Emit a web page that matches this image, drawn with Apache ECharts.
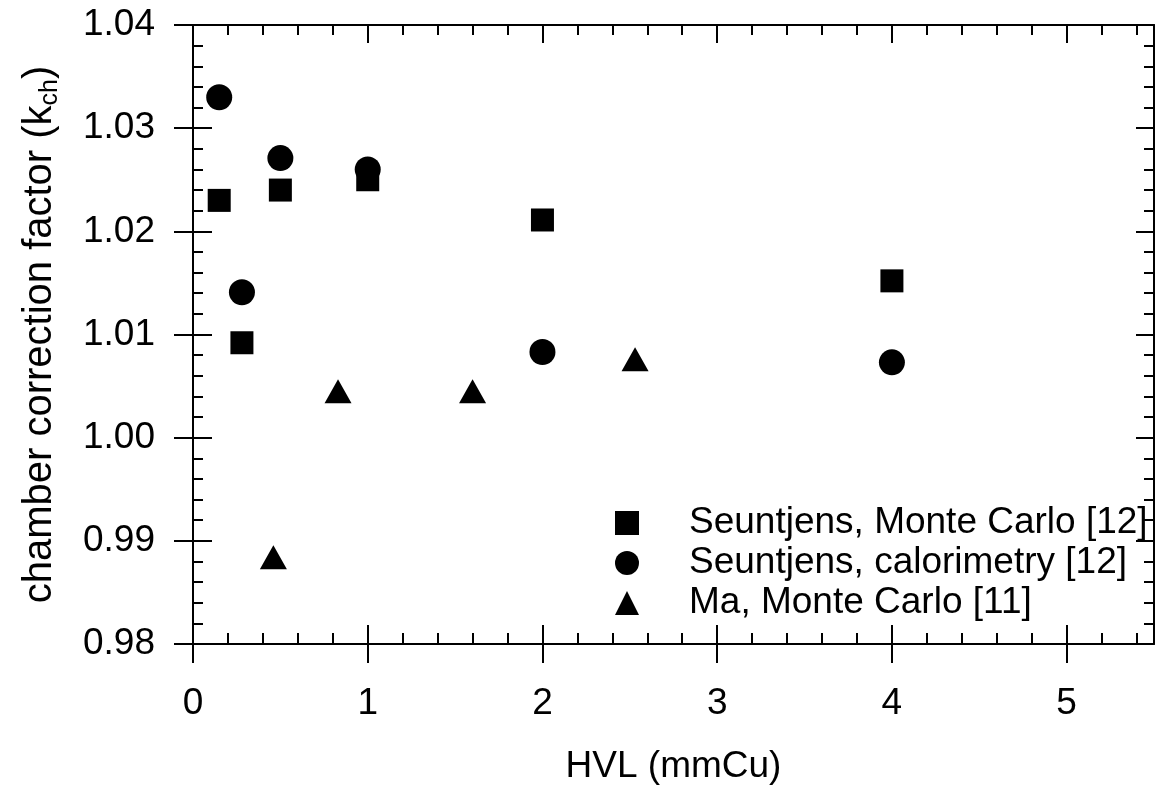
<!DOCTYPE html>
<html>
<head>
<meta charset="utf-8">
<script src="https://cdn.jsdelivr.net/npm/echarts@6/dist/echarts.min.js"></script>
<style>
html, body { margin: 0; padding: 0; background: #fff; }
#chart { width: 1161px; height: 791px; }
</style>
</head>
<body>
<div id="chart"></div>
<script>
// Seuntjens, Monte Carlo [12]
var hvlMC12 = [0.15, 0.28, 0.5, 1.0, 2.0, 4.0]
var kMC12 = [1.023, 1.0092, 1.024, 1.025, 1.0211, 1.0152]
// Seuntjens, calorimetry [12]
var hvlCal12 = [0.15, 0.28, 0.5, 1.0, 2.0, 4.0]
var kCal12 = [1.033, 1.0141, 1.0271, 1.026, 1.0083, 1.0073]
// Ma, Monte Carlo [11]
var hvlMa11 = [0.46, 0.83, 1.6, 2.53]
var kMa11 = [0.9884, 1.0045, 1.0045, 1.0076]

var seriesNames = ['Seuntjens, Monte Carlo [12]', 'Seuntjens, calorimetry [12]', 'Ma, Monte Carlo [11]']
var xTicks = [0, 1, 2, 3, 4, 5]
var yTicks = [0.98, 0.99, 1.00, 1.01, 1.02, 1.03, 1.04]

var X_MIN = 0, X_MAX = 5.5
var Y_MIN = 0.98, Y_MAX = 1.04

// minor tick positions (0.2 on x, 0.002 on y)
var xMinor = []
for (var i = 0; i <= 27; i++) xMinor.push(Math.round(i * 0.2 * 1000) / 1000)
var yMinor = []
for (var j = 0; j <= 30; j++) yMinor.push(Math.round((Y_MIN + j * 0.002) * 10000) / 10000)

var FONT = 'Liberation Sans, Arial, Helvetica, sans-serif'
var BLACK = '#000'

function zip (xs, ys) {
  return xs.map(function (x, k) { return [x, ys[k]] })
}

// axis that only draws ticks (no line, no labels)
function tickAxis (dim, position, values, len, inside) {
  return {
    type: 'value',
    position: position,
    min: dim === 'x' ? X_MIN : Y_MIN,
    max: dim === 'x' ? X_MAX : Y_MAX,
    axisLine: { show: false, onZero: false },
    axisLabel: { show: false },
    splitLine: { show: false },
    axisTick: {
      show: true,
      inside: inside,
      length: len,
      customValues: values,
      lineStyle: { color: BLACK, width: 2 }
    }
  }
}

var chart = echarts.init(document.getElementById('chart'))

var option = {
  backgroundColor: '#fff',
  animation: false,
  textStyle: { fontFamily: FONT },
  grid: {
    left: 193,
    top: 25,
    right: 7,
    bottom: 147,
    containLabel: false,
    outerBoundsMode: 'none'
  },
  legend: {
    orient: 'vertical',
    left: 610,
    top: 498,
    itemWidth: 24,
    itemHeight: 24,
    itemGap: 0,
    data: seriesNames,
    formatter: '{t|{name}}',
    textStyle: {
      fontFamily: FONT,
      fontSize: 37,
      color: BLACK,
      lineHeight: 40,
      rich: {
        t: { fontFamily: FONT, fontSize: 37, color: BLACK, lineHeight: 40, padding: [0, 0, 0, 45] }
      }
    }
  },
  xAxis: [
    {
      type: 'value',
      position: 'bottom',
      min: X_MIN,
      max: X_MAX,
      name: 'HVL (mmCu)',
      nameLocation: 'middle',
      nameGap: 104,
      nameTextStyle: { fontFamily: FONT, fontSize: 37, color: BLACK },
      axisLine: { show: true, onZero: false, lineStyle: { color: BLACK, width: 2 } },
      axisTick: { show: true, inside: true, length: 19, customValues: xTicks, lineStyle: { color: BLACK, width: 2 } },
      axisLabel: {
        customValues: xTicks,
        margin: 41,
        fontFamily: FONT,
        fontSize: 37,
        color: BLACK
      },
      splitLine: { show: false }
    },
    tickAxis('x', 'bottom', xTicks, 19, false),
    tickAxis('x', 'bottom', xMinor, 11, true),
    Object.assign(tickAxis('x', 'top', xTicks, 18, true), {
      axisLine: { show: true, onZero: false, lineStyle: { color: BLACK, width: 2 } }
    }),
    tickAxis('x', 'top', xMinor, 10, true)
  ],
  yAxis: [
    {
      type: 'value',
      position: 'left',
      min: Y_MIN,
      max: Y_MAX,
      name: '{m|chamber correction factor (k}{s|ch}{m|)}',
      nameLocation: 'middle',
      nameGap: 130,
      nameTextStyle: {
        rich: {
          m: { fontFamily: FONT, fontSize: 40, color: BLACK, lineHeight: 46 },
          s: { fontFamily: FONT, fontSize: 25, color: BLACK, lineHeight: 46, verticalAlign: 'bottom', padding: [16, 0, 0, 0] }
        }
      },
      axisLine: { show: true, onZero: false, lineStyle: { color: BLACK, width: 2 } },
      axisTick: { show: true, inside: true, length: 19, customValues: yTicks, lineStyle: { color: BLACK, width: 2 } },
      axisLabel: {
        customValues: yTicks,
        margin: 38,
        fontFamily: FONT,
        fontSize: 37,
        color: BLACK,
        formatter: function (v) { return v.toFixed(2) }
      },
      splitLine: { show: false }
    },
    tickAxis('y', 'left', yTicks, 19, false),
    tickAxis('y', 'left', yMinor, 10, true),
    Object.assign(tickAxis('y', 'right', yTicks, 18, true), {
      axisLine: { show: true, onZero: false, lineStyle: { color: BLACK, width: 2 } }
    }),
    tickAxis('y', 'right', yMinor, 10, true)
  ],
  series: [
    {
      name: seriesNames[0],
      type: 'scatter',
      symbol: 'rect',
      symbolSize: 23,
      itemStyle: { color: BLACK, opacity: 1 },
      data: zip(hvlMC12, kMC12)
    },
    {
      name: seriesNames[1],
      type: 'scatter',
      symbol: 'circle',
      symbolSize: 26,
      itemStyle: { color: BLACK, opacity: 1 },
      data: zip(hvlCal12, kCal12)
    },
    {
      name: seriesNames[2],
      type: 'scatter',
      symbol: 'triangle',
      symbolSize: [27, 24],
      itemStyle: { color: BLACK, opacity: 1 },
      data: zip(hvlMa11, kMa11)
    }
  ]
}

chart.setOption(option)
</script>
</body>
</html>
